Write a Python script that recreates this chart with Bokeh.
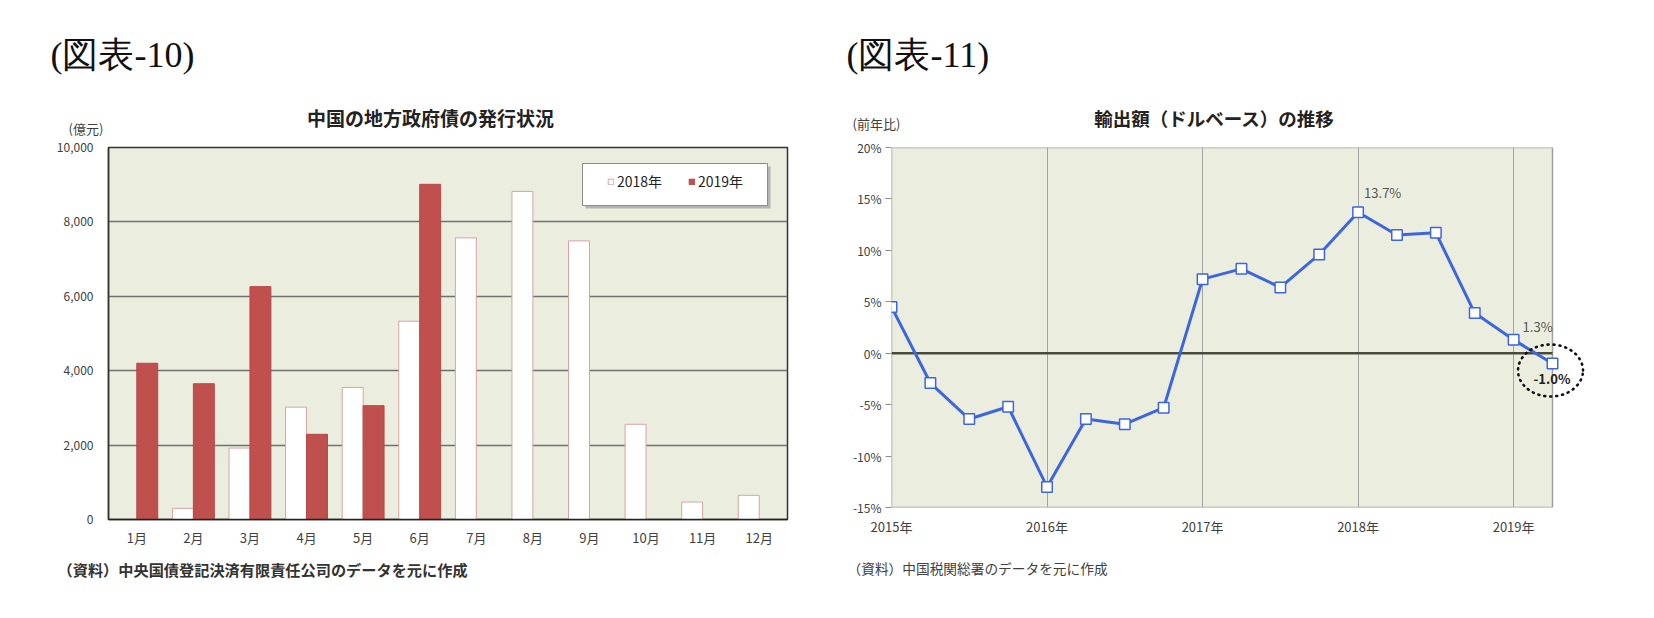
import numpy as np
from bokeh.plotting import figure
from bokeh.models import (Range1d, FixedTicker, NumeralTickFormatter, PrintfTickFormatter,
                          Label, Legend, LegendItem, BoxAnnotation, PolyAnnotation,
                          ColumnDataSource, Row, Column)
from bokeh.transform import dodge
from bokeh.embed import file_html
from bokeh.resources import INLINE

# ---------------- data: chart 10 ----------------
months = [1, 2, 3, 4, 5, 6, 7, 8, 9, 10, 11, 12]
month_labels = ["1月", "2月", "3月", "4月", "5月", "6月", "7月", "8月", "9月", "10月", "11月", "12月"]
issue_2018 = [np.nan, 300, 1920, 3020, 3550, 5330, 7570, 8820, 7490, 2560, 470, 650]
issue_2019 = [4200, 3650, 6260, 2290, 3060, 9010, np.nan, np.nan, np.nan, np.nan, np.nan, np.nan]
bond_ticks = [0, 2000, 4000, 6000, 8000, 10000]

# ---------------- data: chart 11 ----------------
quarters = ["2015Q1", "2015Q2", "2015Q3", "2015Q4",
            "2016Q1", "2016Q2", "2016Q3", "2016Q4",
            "2017Q1", "2017Q2", "2017Q3", "2017Q4",
            "2018Q1", "2018Q2", "2018Q3", "2018Q4",
            "2019Q1", "2019Q2"]
export_yoy = [4.5, -2.9, -6.4, -5.2,
              -13.0, -6.4, -6.9, -5.3,
              7.2, 8.2, 6.4, 9.6,
              13.7, 11.5, 11.7, 3.9,
              1.3, -1.0]
year_ticks = [2015, 2016, 2017, 2018, 2019]
year_labels = ["2015年", "2016年", "2017年", "2018年", "2019年"]
pct_ticks = [-15, -10, -5, 0, 5, 10, 15, 20]
annotated = ["2018Q1", "2019Q1", "2019Q2"]

JP = "Noto Sans CJK JP"
SERIF = "Liberation Serif"
BG = "#EBEEDF"

PAGE_W = 1646
HEAD_B = 138     # header band bottom (page px)
FOOT_T = 555     # footer band top
PAGE_B = 610


def text_band(top, bottom):
    f = figure(width=PAGE_W, height=bottom - top, min_border=0,
               x_range=Range1d(0, PAGE_W), y_range=Range1d(bottom, top),
               x_axis_type=None, y_axis_type=None,
               output_backend="svg", toolbar_location=None, tools="")
    f.grid.visible = False
    f.outline_line_color = None
    f.background_fill_color = "white"
    f.border_fill_color = "white"
    return f


def put(f, X, Y, text, size, font=JP, align="left", color="#222222", style="normal"):
    f.add_layout(Label(x=X, y=Y, text=text, text_font=font, text_font_size=size,
                       text_align=align, text_baseline="middle", text_color=color,
                       text_font_style=style))


# ======================= HEADER / FOOTER =======================
head = text_band(0, HEAD_B)
put(head, 50, 54, "(図表-10)", "36px", font=SERIF, color="#111111")
put(head, 430, 117, "中国の地方政府債の発行状況", "19px", align="center", style="bold")
put(head, 68, 128, "(億元)", "13px", color="#404040")
put(head, 846, 54, "(図表-11)", "36px", font=SERIF, color="#111111")
put(head, 1214, 117, "輸出額（ドルベース）の推移", "18.5px", align="center", style="bold")
put(head, 852, 123, "(前年比)", "13px", color="#404040")

foot = text_band(FOOT_T, PAGE_B)
put(foot, 57, 568, "（資料）中央国債登記決済有限責任公司のデータを元に作成", "15.2px",
    style="bold", color="#333333")
put(foot, 847, 567, "（資料）中国税関総署のデータを元に作成", "13.7px", color="#404040")

# ======================= LEFT FIGURE =======================
L_FX0, L_FX1, L_FY0, L_FY1 = 108, 787, 147, 519
p1 = figure(frame_width=L_FX1 - L_FX0, frame_height=L_FY1 - L_FY0,
            min_border_left=L_FX0, min_border_right=827 - L_FX1,
            min_border_top=L_FY0 - HEAD_B, min_border_bottom=FOOT_T - L_FY1,
            x_range=Range1d(0.5, 12.5), y_range=Range1d(0, 10000),
            output_backend="svg", toolbar_location=None, tools="")


def fx1(X):
    return 0.5 + (X - L_FX0) * 12.0 / (L_FX1 - L_FX0)


def fy1(Y):
    return (L_FY1 - Y) * 10000.0 / (L_FY1 - L_FY0)


p1.background_fill_color = BG
p1.border_fill_color = "white"
p1.outline_line_color = "#333333"
p1.outline_line_width = 1.5

p1.xgrid.visible = False
p1.ygrid.ticker = FixedTicker(ticks=bond_ticks)
p1.ygrid.grid_line_color = "#707070"
p1.ygrid.grid_line_width = 1.3

src = ColumnDataSource(dict(month=months, v18=issue_2018, v19=issue_2019))
r18 = p1.vbar(x=dodge("month", -0.185, range=p1.x_range), top="v18", width=0.37, bottom=0,
              source=src, fill_color="white", line_color="#D9A3A1", line_width=1)
r19 = p1.vbar(x=dodge("month", 0.185, range=p1.x_range), top="v19", width=0.37, bottom=0,
              source=src, fill_color="#C0504D", line_color="#B8474A", line_width=1)

xa = p1.xaxis[0]
xa.ticker = FixedTicker(ticks=months)
xa.major_label_overrides = {m: l for m, l in zip(months, month_labels)}
xa.major_tick_line_color = None
xa.minor_tick_line_color = None
xa.axis_line_color = "#222222"
xa.axis_line_width = 1.5
xa.major_label_text_font = JP
xa.major_label_text_font_size = "13px"
xa.major_label_text_color = "#404040"
xa.major_label_standoff = 2

ya = p1.yaxis[0]
ya.ticker = FixedTicker(ticks=bond_ticks)
ya.formatter = NumeralTickFormatter(format="0,0")
ya.major_tick_line_color = None
ya.minor_tick_line_color = None
ya.axis_line_color = "#333333"
ya.axis_line_width = 1.5
ya.major_label_text_font = JP
ya.major_label_text_font_size = "12px"
ya.major_label_text_color = "#404040"
ya.major_label_standoff = 9

# legend box with shadow
p1.add_layout(BoxAnnotation(left=fx1(585), right=fx1(770), top=fy1(166), bottom=fy1(208),
                            fill_color="#b5b5b5", fill_alpha=1, line_alpha=0))
p1.add_layout(BoxAnnotation(left=fx1(582), right=fx1(767), top=fy1(163), bottom=fy1(205),
                            fill_color="white", fill_alpha=1, line_color="#8c8c8c",
                            line_alpha=1, line_width=1))
legend = Legend(items=[LegendItem(label="2018年", renderers=[r18]),
                       LegendItem(label="2019年", renderers=[r19])],
                location=(607 - L_FX0, L_FY1 - 191), orientation="horizontal",
                glyph_width=7, glyph_height=7, label_standoff=3, label_width=55,
                label_height=16, spacing=16, padding=0, margin=0,
                background_fill_alpha=0, border_line_alpha=0,
                label_text_font=JP, label_text_font_size="14px", label_text_color="#222222")
p1.add_layout(legend)

# ======================= RIGHT FIGURE =======================
OX = 827
R_FX0, R_AX1, R_FY0, R_FY1 = 891, 1552, 147, 507   # plot area (page px)
R_FX1 = 1600                                        # frame extended for the circle
XMIN, XMAX, YMIN, YMAX = 2015.0, 2019.25, -15.0, 20.0
PX_X = (XMAX - XMIN) / (R_AX1 - R_FX0)
PX_Y = (YMAX - YMIN) / (R_FY1 - R_FY0)

p2 = figure(frame_width=R_FX1 - R_FX0, frame_height=R_FY1 - R_FY0,
            min_border_left=R_FX0 - OX, min_border_right=PAGE_W - R_FX1,
            min_border_top=R_FY0 - HEAD_B, min_border_bottom=FOOT_T - R_FY1,
            x_range=Range1d(XMIN, XMAX + (R_FX1 - R_AX1) * PX_X), y_range=Range1d(YMIN, YMAX),
            output_backend="svg", toolbar_location=None, tools="")

p2.background_fill_color = "white"
p2.border_fill_color = "white"
p2.outline_line_color = None

# plot area background + border
p2.add_layout(BoxAnnotation(left=XMIN, right=XMAX, bottom=YMIN, top=YMAX, fill_color=BG,
                            fill_alpha=1, line_color="#a0a0a0", line_alpha=1, line_width=1.5,
                            level="image"))

p2.ygrid.visible = False
p2.xgrid.ticker = FixedTicker(ticks=year_ticks)
p2.xgrid.grid_line_color = "#a3a3a3"
p2.xgrid.grid_line_width = 1

# zero line limited to the plot area
p2.add_layout(BoxAnnotation(left=XMIN, right=XMAX, bottom=0, top=0, fill_alpha=0,
                            line_color="#4a4a3c", line_alpha=1, line_width=2.5, level="underlay"))

qx = [int(q[:4]) + (int(q[-1]) - 1) / 4.0 for q in quarters]
src2 = ColumnDataSource(dict(x=qx, y=export_yoy))
BLUE = "#3D66DD"
p2.line("x", "y", source=src2, line_color=BLUE, line_width=3)
p2.scatter("x", "y", source=src2, marker="square", size=10.5, fill_color="white",
           line_color=BLUE, line_width=1.5)

xb = p2.xaxis[0]
xb.ticker = FixedTicker(ticks=year_ticks)
xb.major_label_overrides = {t: l for t, l in zip(year_ticks, year_labels)}
xb.major_tick_line_color = None
xb.minor_tick_line_color = None
xb.axis_line_color = None
xb.major_label_text_font = JP
xb.major_label_text_font_size = "13px"
xb.major_label_text_color = "#404040"
xb.major_label_standoff = 3

yb = p2.yaxis[0]
yb.ticker = FixedTicker(ticks=pct_ticks)
yb.formatter = PrintfTickFormatter(format="%d%%")
yb.major_tick_out = 6
yb.major_tick_in = 0
yb.major_tick_line_color = "#8c8c8c"
yb.minor_tick_line_color = None
yb.axis_line_color = None
yb.major_label_text_font = JP
yb.major_label_text_font_size = "12px"
yb.major_label_text_color = "#404040"
yb.major_label_standoff = 4

# point annotations (offsets in px from the point)
offsets = {"2018Q1": (6, -20, "#555555", "normal"),
           "2019Q1": (9, -13, "#555555", "normal"),
           "2019Q2": (-19, 15, "#222222", "bold")}
for q in annotated:
    i = quarters.index(q)
    dx, dy, col, sty = offsets[q]
    p2.add_layout(Label(x=qx[i] + dx * PX_X, y=export_yoy[i] - dy * PX_Y,
                        text=f"{export_yoy[i]:.1f}%", text_font=JP, text_font_size="13px",
                        text_align="left", text_baseline="middle", text_color=col,
                        text_font_style=sty))

# dotted circle around latest value
i_last = len(quarters) - 1
t = np.linspace(0, 2 * np.pi, 121)
cx = qx[i_last] - 2 * PX_X
cy = export_yoy[i_last] - 7 * PX_Y
ex = cx + 32.5 * PX_X * np.cos(t)
ey = cy + 26 * PX_Y * np.sin(t)
p2.add_layout(PolyAnnotation(xs=list(ex), ys=list(ey), fill_alpha=0, line_color="#111111",
                             line_width=2.6, line_dash="1 5", line_cap="round", line_alpha=1))

layout = Column(children=[head, Row(children=[p1, p2], spacing=0), foot], spacing=0)
open("out.html", "w").write(file_html(layout, INLINE))
